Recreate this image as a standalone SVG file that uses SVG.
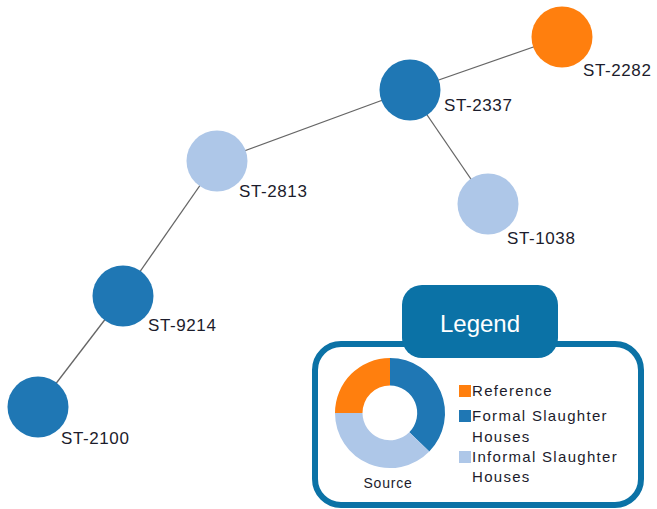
<svg xmlns="http://www.w3.org/2000/svg" width="657" height="509" viewBox="0 0 657 509">
<style>
.lbl{font-family:"Liberation Sans",Arial,sans-serif;font-size:17px;fill:#1c1c2c;letter-spacing:0.6px}
.edge{stroke:#666;stroke-width:1.3;fill:none}
.ref{fill:#ff7f0e}
.formal{fill:#1f77b4}
.informal{fill:#aec7e8}
.leg{font-family:"Liberation Sans",Arial,sans-serif;font-size:15px;fill:#1c1c2c;letter-spacing:1.3px}
</style>
<rect width="657" height="509" fill="#fff"/>
<g id="connectors">
<line class="edge" x1="562" y1="37" x2="410" y2="90"/>
<line class="edge" x1="410" y1="90" x2="217" y2="161"/>
<line class="edge" x1="410" y1="90" x2="488" y2="204"/>
<line class="edge" x1="217" y1="161" x2="123" y2="296"/>
<line class="edge" x1="123" y1="296" x2="38" y2="407"/>
</g>
<g id="node-ST-2282"><circle class="ref" cx="562" cy="37" r="30.5"/><text class="lbl" x="583" y="76">ST-2282</text></g>
<g id="node-ST-2337"><circle class="formal" cx="410" cy="90" r="30.5"/><text class="lbl" x="444" y="111">ST-2337</text></g>
<g id="node-ST-2813"><circle class="informal" cx="217" cy="161" r="30.5"/><text class="lbl" x="239" y="197">ST-2813</text></g>
<g id="node-ST-1038"><circle class="informal" cx="488" cy="204" r="30.5"/><text class="lbl" x="507" y="244">ST-1038</text></g>
<g id="node-ST-9214"><circle class="formal" cx="123" cy="296" r="30.5"/><text class="lbl" x="148" y="331">ST-9214</text></g>
<g id="node-ST-2100"><circle class="formal" cx="38" cy="407" r="30.5"/><text class="lbl" x="61" y="444">ST-2100</text></g>
<g id="legend">
<rect x="315" y="344" width="326" height="161" rx="26" fill="#fff" stroke="#0b72a6" stroke-width="6"/>
<rect x="402" y="285" width="156" height="73" rx="20" fill="#0b72a6"/>
<text x="480" y="332" text-anchor="middle" font-family="Liberation Sans,Arial,sans-serif" font-size="24" fill="#fff">Legend</text>
<g id="donut">
<path class="formal" d="M390 358 A55 55 0 0 1 429.3 451.5 L409.3 432.3 A27.5 27.5 0 0 0 390 385.5 Z"/>
<path class="informal" d="M429.3 451.5 A55 55 0 0 1 335 413 L362.5 413 A27.5 27.5 0 0 0 409.3 432.3 Z"/>
<path class="ref" d="M335 413 A55 55 0 0 1 390 358 L390 385.5 A27.5 27.5 0 0 0 362.5 413 Z"/>
</g>
<text x="388" y="488" text-anchor="middle" font-family="Liberation Sans,Arial,sans-serif" font-size="14" fill="#1c1c2c" letter-spacing="0.8">Source</text>
<rect class="ref" x="459" y="385" width="12" height="12"/>
<text class="leg" x="472" y="396">Reference</text>
<rect class="formal" x="459" y="410" width="12" height="12"/>
<text class="leg" x="472" y="421">Formal Slaughter</text>
<text class="leg" x="472" y="442">Houses</text>
<rect class="informal" x="459" y="451" width="12" height="12"/>
<text class="leg" x="472" y="462">Informal Slaughter</text>
<text class="leg" x="472" y="482">Houses</text>
</g>
</svg>
